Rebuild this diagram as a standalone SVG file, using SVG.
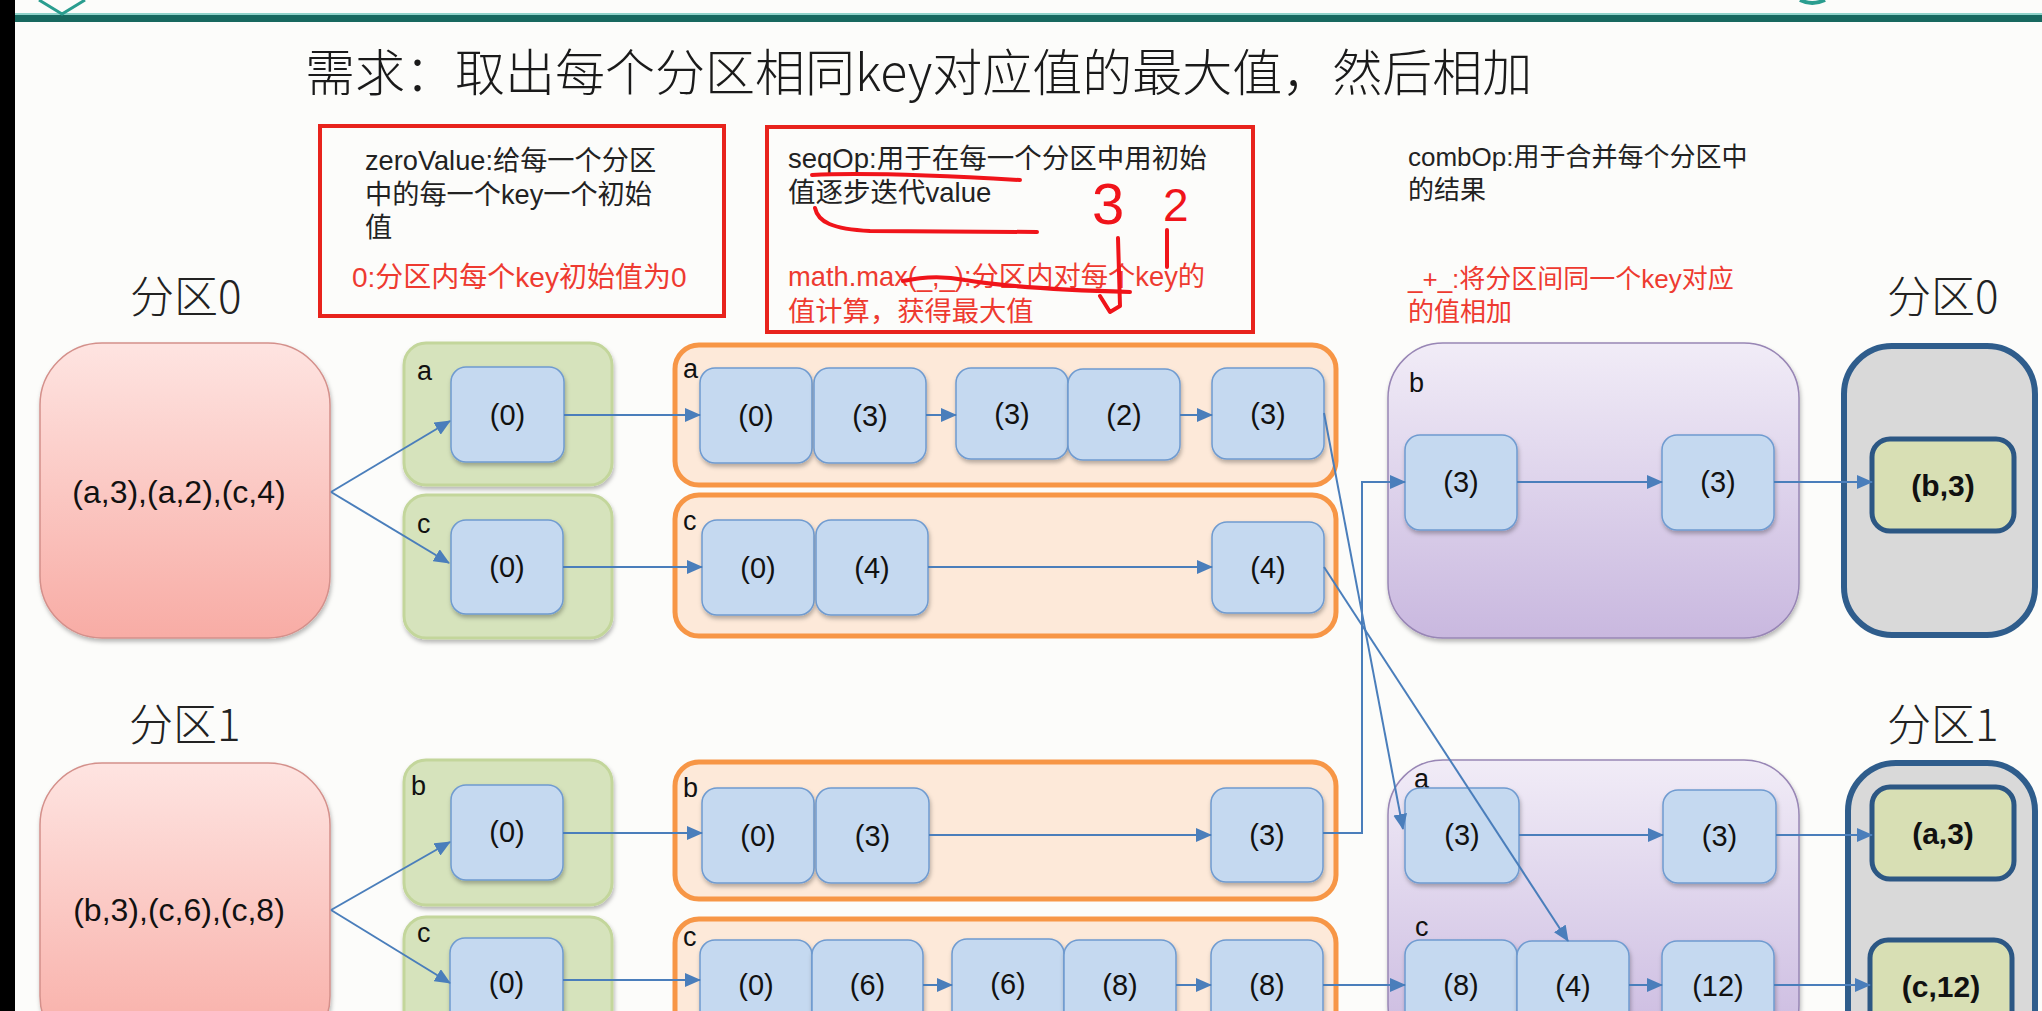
<svg xmlns="http://www.w3.org/2000/svg" width="2042" height="1011" viewBox="0 0 2042 1011">
<defs>
  <linearGradient id="gRed" x1="0" y1="0" x2="0" y2="1">
    <stop offset="0" stop-color="#fee4e1"/><stop offset="1" stop-color="#f8aca5"/>
  </linearGradient>
  <linearGradient id="gPurple" x1="0" y1="0" x2="0" y2="1">
    <stop offset="0" stop-color="#f1ecf7"/><stop offset="1" stop-color="#c9b8df"/>
  </linearGradient>
  <filter id="sh" x="-10%" y="-10%" width="130%" height="140%">
    <feDropShadow dx="1" dy="3" stdDeviation="2" flood-color="#000" flood-opacity="0.28"/>
  </filter>
  <marker id="arr" viewBox="0 0 16 14" refX="15" refY="7" markerWidth="16" markerHeight="14" markerUnits="userSpaceOnUse" orient="auto">
    <path d="M0,0 L16,7 L0,14 z" fill="#4a7ebb"/>
  </marker>
  <style>
    .cjk{font-family:"Liberation Sans","Noto Sans CJK SC",sans-serif;}
    .title{font-family:"Noto Sans CJK SC",sans-serif;font-size:50px;font-weight:300;fill:#1a1a1a;}
    .part{font-family:"Noto Sans CJK SC",sans-serif;font-size:44px;font-weight:300;fill:#222;}
    .note{fill:#222;}
    .rednote{fill:#ee3a30;}
    .box{font-family:"Liberation Sans",sans-serif;font-size:29px;fill:#111;text-anchor:middle;dominant-baseline:central;}
    .src{font-family:"Liberation Sans",sans-serif;font-size:32px;fill:#111;text-anchor:middle;dominant-baseline:central;}
    .res{font-family:"Liberation Sans",sans-serif;font-size:30px;font-weight:bold;fill:#111;text-anchor:middle;dominant-baseline:central;}
    .key{font-family:"Liberation Sans",sans-serif;font-size:27px;fill:#111;}
    .redbox{fill:none;stroke:#e8231c;stroke-width:4;}
    .blue{fill:#c5d9f0;stroke:#6f9bd0;stroke-width:1.5;filter:url(#sh);}
    .green{fill:#d6e3bc;stroke:#c3d69b;stroke-width:3;filter:url(#sh);}
    .orange{fill:#fde9d9;stroke:#f79646;stroke-width:5;}
    .purple{fill:url(#gPurple);stroke:#9886b5;stroke-width:1.5;filter:url(#sh);}
    .gray{fill:#d9d9d9;stroke:#2f5d8c;stroke-width:6;}
    .result{fill:#d8dfb4;stroke:#2c5784;stroke-width:5;}
    .src-box{fill:url(#gRed);stroke:#d4908b;stroke-width:1.5;filter:url(#sh);}
    .conn{fill:none;stroke:#4a7ebb;stroke-width:2;marker-end:url(#arr);}
    .ink{fill:none;stroke:#f0141a;stroke-width:4;stroke-linecap:round;stroke-linejoin:round;}
    .inkt{font-family:"Liberation Sans",sans-serif;fill:#f0141a;}
  </style>
</defs>

<rect x="0" y="0" width="2042" height="1011" fill="#fcfcfa"/>
<rect x="0" y="0" width="15" height="1011" fill="#000"/>
<!-- header -->
<rect x="15" y="13" width="2027" height="2.5" fill="#8fd3ca"/>
<rect x="15" y="15" width="2027" height="7" fill="#17685f"/>
<polyline points="39,0 62,14 85,0" fill="none" stroke="#2a9d8f" stroke-width="3"/>
<path d="M1800,0 Q1812,6 1825,0" fill="none" stroke="#2a9d8f" stroke-width="4"/>

<text x="305" y="91" class="title">需求：取出每个分区相同key对应值的最大值，然后相加</text>

<!-- annotation boxes -->
<g id="zeroValue">
  <rect x="320" y="126" width="404" height="190" class="redbox"/>
  <text x="365" y="170" class="cjk note" font-size="27.2">zeroValue:给每一个分区</text>
  <text x="365" y="204" class="cjk note" font-size="27.2">中的每一个key一个初始</text>
  <text x="365" y="237" class="cjk note" font-size="27.2">值</text>
  <text x="352" y="287" class="cjk rednote" font-size="28">0:分区内每个key初始值为0</text>
</g>
<g id="seqOp">
  <rect x="767" y="127" width="486" height="205" class="redbox"/>
  <text x="788" y="168" class="cjk note" font-size="27.5">seqOp:用于在每一个分区中用初始</text>
  <text x="788" y="202" class="cjk note" font-size="27.5">值逐步迭代value</text>
  <text x="788" y="286" class="cjk rednote" font-size="27.3">math.max(_,_):分区内对每个key的</text>
  <text x="788" y="321" class="cjk rednote" font-size="27.3">值计算，获得最大值</text>
</g>
<g id="combOp">
  <text x="1408" y="166" class="cjk note" font-size="26">combOp:用于合并每个分区中</text>
  <text x="1408" y="199" class="cjk note" font-size="26">的结果</text>
  <text x="1408" y="288" class="cjk rednote" font-size="26">_+_:将分区间同一个key对应</text>
  <text x="1408" y="321" class="cjk rednote" font-size="26">的值相加</text>
</g>

<!-- handwriting marks -->
<g id="ink">
  <path class="ink" d="M812,175 C870,172 950,176 1020,180"/>
  <path class="ink" d="M815,208 C818,222 832,229 870,231 L1037,232"/>
  <path class="ink" d="M903,281 C925,276 945,276 965,280 C1000,286 1060,290 1130,292"/>
  <path class="ink" d="M1118,238 L1120,306 L1110,312 L1100,296"/>
  <path class="ink" d="M1167,230 L1167,267"/>
  <text x="1092" y="224" class="inkt" font-size="58">3</text>
  <text x="1163" y="221" class="inkt" font-size="46">2</text>
</g>

<!-- partition labels -->
<text x="130" y="313" class="part">分区0</text>
<text x="1887" y="313" class="part">分区0</text>
<text x="129" y="741" class="part">分区1</text>
<text x="1887" y="741" class="part">分区1</text>

<!-- containers -->
<g id="src0"><rect x="40" y="343" width="290" height="295" rx="62" class="src-box"/><text x="179" y="492" class="src">(a,3),(a,2),(c,4)</text></g>
<g id="src1"><rect x="40" y="763" width="290" height="295" rx="62" class="src-box"/><text x="179" y="910" class="src">(b,3),(c,6),(c,8)</text></g>

<g id="init0a"><rect x="404" y="343" width="208" height="142" rx="22" class="green"/><text x="417" y="380" class="key">a</text>
  <rect x="451" y="367" width="113" height="95" rx="15" class="blue"/><text x="507.5" y="415" class="box">(0)</text></g>
<g id="init0c"><rect x="404" y="495" width="208" height="143" rx="22" class="green"/><text x="417" y="533" class="key">c</text>
  <rect x="451" y="520" width="112" height="94" rx="15" class="blue"/><text x="507" y="567" class="box">(0)</text></g>
<g id="init1b"><rect x="404" y="760" width="208" height="145" rx="22" class="green"/><text x="411" y="795" class="key">b</text>
  <rect x="451" y="785" width="112" height="95" rx="15" class="blue"/><text x="507" y="832" class="box">(0)</text></g>
<g id="init1c"><rect x="404" y="917" width="208" height="145" rx="22" class="green"/><text x="417" y="942" class="key">c</text>
  <rect x="450" y="938" width="113" height="95" rx="15" class="blue"/><text x="506.5" y="983" class="box">(0)</text></g>

<g id="seq0a"><rect x="675" y="345" width="661" height="140" rx="24" class="orange"/><text x="683" y="378" class="key">a</text>
  <rect x="700" y="368" width="112" height="95" rx="15" class="blue"/><text x="756" y="416" class="box">(0)</text>
  <rect x="814" y="368" width="112" height="95" rx="15" class="blue"/><text x="870" y="416" class="box">(3)</text>
  <rect x="956" y="368" width="112" height="91" rx="15" class="blue"/><text x="1012" y="414" class="box">(3)</text>
  <rect x="1068" y="369" width="112" height="91" rx="15" class="blue"/><text x="1124" y="415" class="box">(2)</text>
  <rect x="1212" y="368" width="112" height="91" rx="15" class="blue"/><text x="1268" y="414" class="box">(3)</text></g>
<g id="seq0c"><rect x="675" y="495" width="661" height="141" rx="24" class="orange"/><text x="683" y="530" class="key">c</text>
  <rect x="702" y="520" width="112" height="95" rx="15" class="blue"/><text x="758" y="568" class="box">(0)</text>
  <rect x="816" y="520" width="112" height="95" rx="15" class="blue"/><text x="872" y="568" class="box">(4)</text>
  <rect x="1212" y="522" width="112" height="91" rx="15" class="blue"/><text x="1268" y="568" class="box">(4)</text></g>
<g id="seq1b"><rect x="675" y="762" width="661" height="137" rx="24" class="orange"/><text x="683" y="797" class="key">b</text>
  <rect x="702" y="788" width="112" height="95" rx="15" class="blue"/><text x="758" y="836" class="box">(0)</text>
  <rect x="816" y="788" width="113" height="95" rx="15" class="blue"/><text x="872.5" y="836" class="box">(3)</text>
  <rect x="1211" y="788" width="112" height="94" rx="15" class="blue"/><text x="1267" y="835" class="box">(3)</text></g>
<g id="seq1c"><rect x="675" y="919" width="661" height="145" rx="24" class="orange"/><text x="683" y="946" class="key">c</text>
  <rect x="700" y="940" width="112" height="95" rx="15" class="blue"/><text x="756" y="985" class="box">(0)</text>
  <rect x="812" y="940" width="111" height="95" rx="15" class="blue"/><text x="867.5" y="985" class="box">(6)</text>
  <rect x="952" y="939" width="112" height="95" rx="15" class="blue"/><text x="1008" y="984" class="box">(6)</text>
  <rect x="1064" y="940" width="112" height="95" rx="15" class="blue"/><text x="1120" y="985" class="box">(8)</text>
  <rect x="1211" y="940" width="112" height="95" rx="15" class="blue"/><text x="1267" y="985" class="box">(8)</text></g>

<g id="comb0"><rect x="1388" y="343" width="411" height="295" rx="55" class="purple"/><text x="1409" y="392" class="key">b</text>
  <rect x="1405" y="435" width="112" height="95" rx="15" class="blue"/><text x="1461" y="482" class="box">(3)</text>
  <rect x="1662" y="435" width="112" height="95" rx="15" class="blue"/><text x="1718" y="482" class="box">(3)</text></g>
<g id="comb1"><rect x="1388" y="760" width="411" height="300" rx="55" class="purple"/>
  <text x="1414" y="788" class="key">a</text>
  <rect x="1405" y="788" width="114" height="95" rx="15" class="blue"/><text x="1462" y="835" class="box">(3)</text>
  <rect x="1663" y="790" width="113" height="93" rx="15" class="blue"/><text x="1719.5" y="836" class="box">(3)</text>
  <text x="1415" y="936" class="key">c</text>
  <rect x="1405" y="940" width="112" height="95" rx="15" class="blue"/><text x="1461" y="985" class="box">(8)</text>
  <rect x="1517" y="941" width="112" height="95" rx="15" class="blue"/><text x="1573" y="986" class="box">(4)</text>
  <rect x="1662" y="941" width="112" height="95" rx="15" class="blue"/><text x="1718" y="986" class="box">(12)</text></g>

<g id="out0"><rect x="1844" y="346" width="191" height="289" rx="48" class="gray"/>
  <rect x="1872" y="439" width="142" height="92" rx="18" class="result"/><text x="1943" y="485" class="res">(b,3)</text></g>
<g id="out1"><rect x="1848" y="763" width="187" height="300" rx="48" class="gray"/>
  <rect x="1872" y="787" width="142" height="92" rx="18" class="result"/><text x="1943" y="833" class="res">(a,3)</text>
  <rect x="1870" y="940" width="142" height="93" rx="18" class="result"/><text x="1941" y="986" class="res">(c,12)</text></g>

<!-- connectors -->
<g id="connectors">
  <path class="conn" d="M331,492 L450,421"/>
  <path class="conn" d="M331,492 L449,563"/>
  <path class="conn" d="M564,415 L700,415"/>
  <path class="conn" d="M563,567 L702,567"/>
  <path class="conn" d="M926,415 L956,415"/>
  <path class="conn" d="M1180,415 L1212,415"/>
  <path class="conn" d="M928,567 L1212,567"/>
  <path class="conn" d="M1324,413 L1403,829"/>
  <path class="conn" d="M1324,567 L1568,941"/>
  <path class="conn" d="M1517,482 L1662,482"/>
  <path class="conn" d="M1774,482 L1872,482"/>

  <path class="conn" d="M331,910 L450,842"/>
  <path class="conn" d="M331,910 L450,983"/>
  <path class="conn" d="M563,833 L702,833"/>
  <path class="conn" d="M563,980 L700,980"/>
  <path class="conn" d="M929,835 L1211,835"/>
  <path class="conn" d="M923,985 L952,985"/>
  <path class="conn" d="M1176,985 L1211,985"/>
  <path class="conn" d="M1323,833 L1362,833 L1362,482 L1405,482"/>
  <path class="conn" d="M1323,985 L1405,985"/>
  <path class="conn" d="M1519,835 L1663,835"/>
  <path class="conn" d="M1776,835 L1872,835"/>
  <path class="conn" d="M1629,985 L1662,985"/>
  <path class="conn" d="M1774,985 L1870,985"/>
</g>
</svg>
